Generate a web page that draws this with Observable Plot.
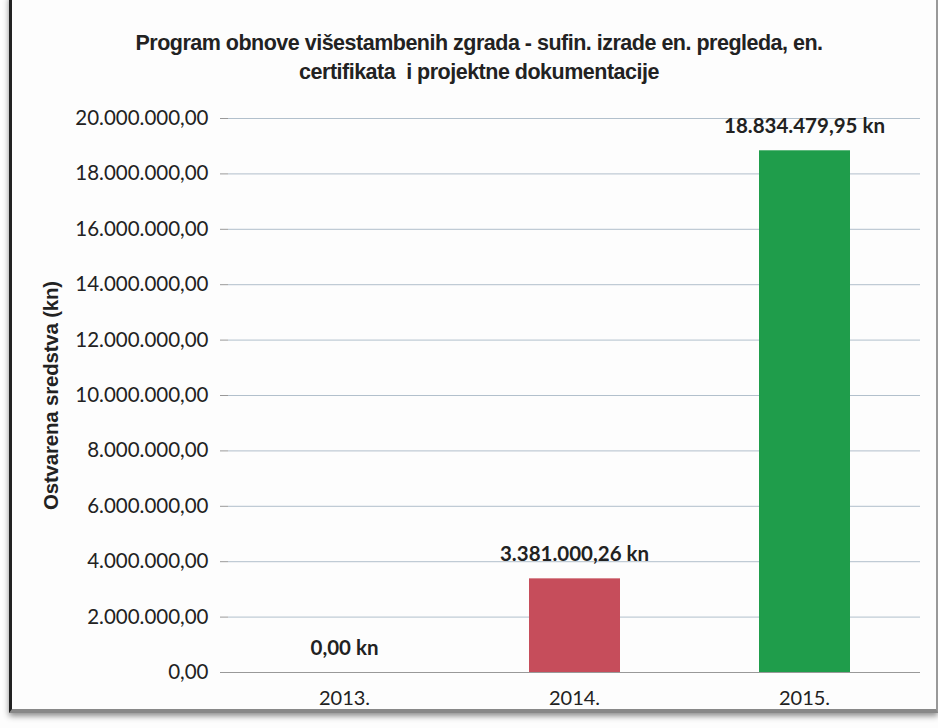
<!DOCTYPE html>
<html><head><meta charset="utf-8">
<script src="https://cdn.jsdelivr.net/npm/d3@7"></script>
<script src="https://cdn.jsdelivr.net/npm/@observablehq/plot@0.6"></script>
<style>
body{margin:0;background:#fff;}
#wrap{position:relative;width:938px;height:728px;overflow:hidden;background:#fdfdfd;}
#frame{position:absolute;left:9px;top:-5px;width:924px;height:714px;border-left:3px solid #222;border-right:2px solid #999;border-bottom:4px solid #888;box-shadow:0 3px 6px rgba(0,0,0,0.45);pointer-events:none;}
#title{position:absolute;left:0;top:29px;width:958px;text-align:center;font-family:"Liberation Sans",Arial,sans-serif;font-weight:bold;font-size:21.5px;line-height:29px;color:#222;letter-spacing:-0.5px;}
#chart{position:absolute;left:0;top:0;}
g[aria-label="y-axis label"] text{font-weight:bold;font-size:20.5px;font-family:"Liberation Sans",Arial,sans-serif;letter-spacing:-0.2px;}
</style></head>
<body><div id="wrap"><div id="chart"></div><div id="frame"></div>
<div id="title">Program obnove višestambenih zgrada - sufin. izrade en. pregleda, en.<br>certifikata&nbsp; i projektne dokumentacije</div></div>
<script>
const years = ["2013.", "2014.", "2015."];
const amounts = [0, 3381000.26, 18834479.95];
const barColors = ["#c64d5b", "#c64d5b", "#1f9d4b"];
const yTicks = [0,2000000,4000000,6000000,8000000,10000000,12000000,14000000,16000000,18000000,20000000];
const yLabel = "Ostvarena sredstva (kn)";

const loc = d3.formatLocale({decimal: ",", thousands: ".", grouping: [3], currency: ["", " kn"]});
const fmt = loc.format(",.2f");
const data = years.map((y, i) => ({year: y, value: amounts[i], color: barColors[i]}));

const chart = Plot.plot({
  width: 938, height: 728,
  marginTop: 118, marginBottom: 56, marginLeft: 228, marginRight: 18,
  style: {fontFamily: "Lato, sans-serif", fontSize: "20px", color: "#222", background: "transparent"},
  x: {domain: years, padding: 0, label: null},
  y: {domain: [0, 20000000], label: null},
  marks: [
    Plot.gridY(yTicks, {stroke: "#9fb0bf", strokeOpacity: 0.8}),
    Plot.barY(data, {x: "year", y: "value", fill: "color", insetLeft: 70, insetRight: 69}),
    Plot.text(data, {x: "year", y: "value", text: d => fmt(d.value) + " kn", dy: -24, fontWeight: "bold", fontSize: 20.5, fill: "#222"}),
    Plot.ruleY([0], {stroke: "#999"}),
    Plot.ruleX([0], {frameAnchor: "left", stroke: "#aaa"}),
    Plot.axisY({ticks: yTicks, tickFormat: fmt, tickSize: 8, tickPadding: 12, stroke: "#999", fontSize: 20.5,
      label: yLabel, labelAnchor: "center", labelArrow: "none", labelOffset: 185}),
    Plot.axisX({tickSize: 0, tickPadding: 18, fontSize: 20})
  ]
});
document.getElementById("chart").appendChild(chart);
</script></body></html>
